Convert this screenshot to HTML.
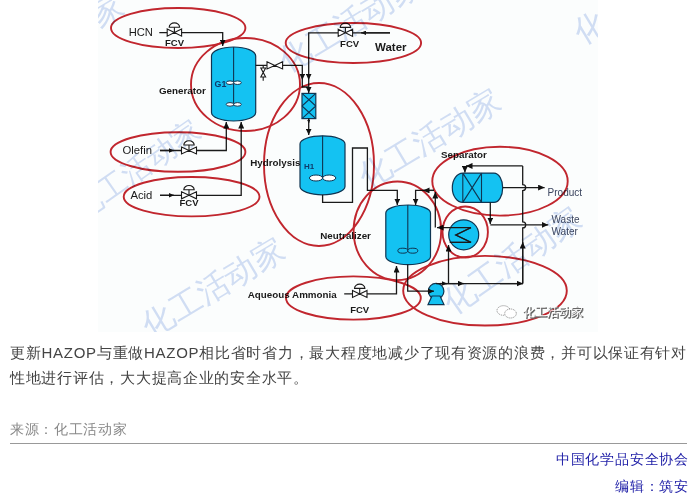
<!DOCTYPE html>
<html><head><meta charset="utf-8">
<style>
html,body{margin:0;padding:0;background:#fff;width:697px;height:496px;overflow:hidden;font-family:"Liberation Sans",sans-serif;}
#dg{position:absolute;left:0;top:0;}
.t{position:absolute;white-space:nowrap;}
</style></head><body>
<svg id="dg" width="697" height="335" viewBox="0 0 697 335">
<defs>
<marker id="ah" viewBox="0 0 6 6" refX="6" refY="3" markerWidth="6.5" markerHeight="6" markerUnits="userSpaceOnUse" orient="auto" preserveAspectRatio="none"><path d="M0 0L6 3L0 6z" fill="#111"/></marker>
<clipPath id="imgclip"><rect x="98" y="0" width="500" height="332"/></clipPath>
<marker id="ah2" viewBox="0 0 6 6" refX="6" refY="3" markerWidth="3.5" markerHeight="3.5" markerUnits="userSpaceOnUse" orient="auto" preserveAspectRatio="none"><path d="M0 0L6 3L0 6z" fill="#111"/></marker>
<marker id="ah3" viewBox="0 0 6 6" refX="6" refY="3" markerWidth="5" markerHeight="4.5" markerUnits="userSpaceOnUse" orient="auto" preserveAspectRatio="none"><path d="M0 0L6 3L0 6z" fill="#111"/></marker>
</defs>
<rect x="98" y="0" width="500" height="332" fill="#fbfdfd"/>
<!-- watermarks -->
<g clip-path="url(#imgclip)" font-family="Liberation Sans" font-size="32" font-weight="300" fill="#d0ddf3">
<text transform="translate(374.3,171) rotate(-31)" x="-16" y="11.5">化工活动家</text>
<text transform="translate(158,320) rotate(-31)" x="-16" y="11.5">化工活动家</text>
<text transform="translate(295,55) rotate(-31)" x="-16" y="11.5">化工活动家</text>
<text transform="translate(87,203) rotate(-35)" x="-15" y="11" font-size="29.5">化工活动家</text>
<text transform="translate(459.5,296.5) rotate(-35)" x="-16" y="11.5">化工活动家</text>
<text transform="translate(590,27) rotate(-31)" x="-16" y="11.5">化工活动家</text>
<text transform="translate(-3,76) rotate(-31)" x="-16" y="11.5">化工活动家</text>
</g>
<!-- vessels -->
<g fill="#14c2f2" stroke="#0f3552" stroke-width="1.2">
<path d="M211.5 56A22.1 9 0 0 1 255.7 56V112.5A22.1 8.5 0 0 1 211.5 112.5Z"/>
<path d="M300 144A22.5 8.2 0 0 1 345 144V186.5A22.5 8.3 0 0 1 300 186.5Z"/>
<path d="M385.8 213A22.35 8 0 0 1 430.5 213V256.5A22.35 8.1 0 0 1 385.8 256.5Z"/>
<rect x="302" y="93.4" width="13.8" height="25.2"/>
<path d="M462.8 173.1H494A8.7 14.65 0 0 1 494 202.4H462.8A10.5 14.65 0 0 1 462.8 173.1Z"/>
<circle cx="463.7" cy="234.8" r="15"/>
<circle cx="436.1" cy="291.2" r="7.8"/>
<path d="M432 296L428 304.6H444L440 296Z"/>
</g>
<g fill="none" stroke="#0f3552" stroke-width="1.1">
<path d="M233.6 47V106M322.6 135.8V178M407.8 205V250.7"/>
<path d="M302 93.4L315.8 106M315.8 93.4L302 106M302 106L315.8 118.6M315.8 106L302 118.6"/>
<path d="M462.8 173.1V202.4M481.5 173.1V202.4M462.8 173.1L481.5 202.4M481.5 173.1L462.8 202.4"/>
<path d="M471 227.6L455.8 235L471 242.3H449.8" stroke="#0f3552"/>
</g>
<g fill="#fff" stroke="#0f3552" stroke-width="1">
<ellipse cx="230" cy="82.7" rx="3.8" ry="1.8"/><ellipse cx="237.5" cy="82.7" rx="3.8" ry="1.8"/>
<ellipse cx="230" cy="104.4" rx="3.8" ry="1.8"/><ellipse cx="237.5" cy="104.4" rx="3.8" ry="1.8"/>
<ellipse cx="316" cy="178" rx="6.6" ry="3"/><ellipse cx="329.2" cy="178" rx="6.6" ry="3"/>
</g>
<g fill="#14c2f2" stroke="#0f3552" stroke-width="1">
<ellipse cx="402.8" cy="250.7" rx="5" ry="2.5"/><ellipse cx="412.8" cy="250.7" rx="5" ry="2.5"/>
</g>
<g fill="none" stroke="#1a1a1a" stroke-width="1.3">
<!-- HCN -->
<path d="M159.3 32.6H167.2M181.6 32.6H222.7V46" marker-end="url(#ah)"/>
<!-- Olefin -->
<path d="M160 150.5H181.5M196.5 150.5H226.3V122" marker-end="url(#ah)"/>
<path d="M160 150.5H174" marker-end="url(#ah3)"/>
<!-- Acid -->
<path d="M160 195.3H181.5M196.5 195.3H241.2V122" marker-end="url(#ah)"/>
<path d="M160 195.3H174" marker-end="url(#ah3)"/>
<path d="M390 32.8H361" marker-end="url(#ah3)"/>
<!-- Water -->
<path d="M390 32.8H352.6M338.2 32.8H308.7V80" marker-end="url(#ah)"/>
<!-- generator outlet -->
<path d="M255.7 65.4H267M282.6 65.4H302.3V80" marker-end="url(#ah)"/>
<path d="M302.3 80V87H308.7" />
<path d="M308.7 80V93" marker-end="url(#ah)"/>
<path d="M308.7 118.6V123" marker-end="url(#ah2)"/>
<!-- column to H1 -->
<path d="M308.7 118.6V135" marker-end="url(#ah)"/>
<!-- H1 outlet -->
<path d="M322.6 194.8V202.3H352.5V148H367.4V190.4H397.3V205" marker-end="url(#ah)"/>
<!-- separator return -->
<path d="M434 190.4H415.6V205" marker-end="url(#ah)"/>
<path d="M434 190.4H423" marker-end="url(#ah)"/>
<path d="M435.3 227.6V192" marker-end="url(#ah)"/>
<!-- HE -->
<path d="M471 227.6H437" marker-end="url(#ah)"/>
<path d="M471 227.6L455.8 235L471 242.3H449.8"/>
<path d="M448.5 283.8V245" marker-end="url(#ah)"/>
<!-- neutralizer bottom to pump -->
<path d="M407.7 264.6V291.2H434" marker-end="url(#ah)"/>
<!-- pump out -->
<path d="M436 283.6H523" />
<path d="M440 283.6H464" marker-end="url(#ah)"/>
<path d="M440 283.6H447" marker-end="url(#ah3)"/>
<path d="M500 283.6H523" marker-end="url(#ah)"/>
<!-- aqueous -->
<path d="M344.2 293.9H352.5M367 293.9H396.5V266" marker-end="url(#ah)"/>
<!-- separator top -->
<path d="M522.7 165.9H466" marker-end="url(#ah)"/>
<path d="M464.9 165.9V172.5" marker-end="url(#ah)"/>
<path d="M522.7 165.9V184.6A3 3 0 0 1 522.7 190.6V221.9A3 3 0 0 1 522.7 227.9V283.6"/>
<path d="M502.7 187.6H544.6" marker-end="url(#ah)"/>
<path d="M490.3 202.4V224" marker-end="url(#ah)"/>
<path d="M490.3 224.9H548.3" marker-end="url(#ah)"/>
<path d="M522.7 283.6V242" marker-end="url(#ah)"/>
</g>
<!-- valves -->
<g fill="#fff" stroke="#1a1a1a" stroke-width="1.1">
<path d="M167.2 29L174.4 32.6L167.2 36.2Z M181.6 29L174.4 32.6L181.6 36.2Z"/>
<path d="M169.2 27.2A5.2 4.3 0 0 1 179.6 27.2Z"/><path d="M174.4 32.6V27.2" fill="none"/>
<path d="M181.5 147L189 150.5L181.5 154Z M196.5 147L189 150.5L196.5 154Z"/>
<path d="M183.8 145A5.2 4.3 0 0 1 194.2 145Z"/><path d="M189 150.5V145" fill="none"/>
<path d="M181.5 191.8L189 195.3L181.5 198.8Z M196.5 191.8L189 195.3L196.5 198.8Z"/>
<path d="M183.8 189.8A5.2 4.3 0 0 1 194.2 189.8Z"/><path d="M189 195.3V189.8" fill="none"/>
<path d="M338.2 29.2L345.4 32.8L338.2 36.4Z M352.6 29.2L345.4 32.8L352.6 36.4Z"/>
<path d="M340.2 27.4A5.2 4.3 0 0 1 350.6 27.4Z"/><path d="M345.4 32.8V27.4" fill="none"/>
<path d="M352.5 290.4L359.7 293.9L352.5 297.4Z M367 290.4L359.7 293.9L367 297.4Z"/>
<path d="M354.5 288.4A5.2 4.3 0 0 1 364.9 288.4Z"/><path d="M359.7 293.9V288.4" fill="none"/>
<path d="M267 61.8L274.8 65.4L267 69Z M282.6 61.8L274.8 65.4L282.6 69Z"/>
<path d="M260.8 68L263.2 72.5L265.6 68Z M260.8 77L263.2 72.5L265.6 77Z"/><path d="M263.2 65.4V68M263.2 77V80.8" fill="none"/>
</g>
<!-- labels -->
<g font-family="Liberation Sans" fill="#1a1a1a">
<text x="128.7" y="36" font-size="11.2">HCN</text>
<text x="122.5" y="154.2" font-size="11.3">Olefin</text>
<text x="130.4" y="199" font-size="11.3">Acid</text>
<g font-weight="bold" font-size="9.5" text-anchor="middle">
<text x="174.5" y="46.2">FCV</text>
<text x="349.6" y="47">FCV</text>
<text x="189" y="206">FCV</text>
<text x="359.7" y="313">FCV</text>
</g>
<g font-weight="bold" font-size="9.8">
<text x="159" y="93.5">Generator</text>
<text x="250.3" y="165.6">Hydrolysis</text>
<text x="320.3" y="239.4">Neutralizer</text>
<text x="441" y="158.4">Separator</text>
<text x="247.8" y="298.4">Aqueous Ammonia</text>
</g>
<text x="375" y="51" font-size="11.5" font-weight="bold">Water</text>
<text x="547.6" y="195.5" font-size="10" fill="#3c4660">Product</text>
<text x="551.5" y="223" font-size="10" fill="#3c4660">Waste</text>
<text x="551.5" y="234.5" font-size="10" fill="#3c4660">Water</text>
<text x="214.6" y="87.3" font-size="8.8" font-weight="bold" fill="#0f3a6a">G1</text>
<text x="304" y="169" font-size="8" font-weight="bold" fill="#0f3a6a">H1</text>
</g>
<!-- red ellipses -->
<g fill="none" stroke="#c4262e" stroke-width="1.9" style="mix-blend-mode:multiply">
<ellipse cx="178.2" cy="28" rx="67.2" ry="20"/>
<ellipse cx="245.5" cy="84.5" rx="54.5" ry="46.5"/>
<ellipse cx="353.4" cy="43" rx="67.7" ry="20"/>
<ellipse cx="178" cy="152" rx="67.4" ry="19.8"/>
<ellipse cx="191.6" cy="196.7" rx="67.9" ry="19.7"/>
<ellipse cx="319" cy="164.5" rx="55" ry="81.5"/>
<ellipse cx="500" cy="181.2" rx="67.7" ry="34.4"/>
<ellipse cx="397.4" cy="230.8" rx="43.8" ry="49.3"/>
<ellipse cx="465.2" cy="232" rx="22.7" ry="25.5"/>
<ellipse cx="353.4" cy="298" rx="67.4" ry="21.6"/>
<ellipse cx="485" cy="290.7" rx="81.8" ry="34.8"/>
</g>
<g font-family="Liberation Sans" font-size="12">
<text x="523.5" y="317" fill="#555" stroke="#666" stroke-width="0.6">化工活动家</text>
<text x="522.5" y="316" fill="#fff">化工活动家</text>
</g>
<g fill="#fff" stroke="#888" stroke-width="0.9" stroke-dasharray="1.2 0.8">
<ellipse cx="503.5" cy="310.5" rx="6.5" ry="4.8"/>
<ellipse cx="510.5" cy="313.5" rx="5.8" ry="4.5"/>
</g>
</svg>
<div class="t" style="left:10px;top:341px;font-size:15px;color:#444;letter-spacing:0.73px;line-height:24.5px">更新HAZOP与重做HAZOP相比省时省力，最大程度地减少了现有资源的浪费，并可以保证有针对<br>性地进行评估，大大提高企业的安全水平。</div>
<div class="t" style="left:10px;top:421px;font-size:14px;letter-spacing:0.68px;color:#888">来源：化工活动家</div>
<div style="position:absolute;left:10px;top:443px;width:677px;height:1px;background:#999"></div>
<div class="t" style="right:8px;top:450.5px;font-size:14px;letter-spacing:0.8px;color:#1c1ca6">中国化学品安全协会</div>
<div class="t" style="right:8px;top:478px;font-size:14px;letter-spacing:0.8px;color:#1c1ca6">编辑：筑安</div>
</body></html>
